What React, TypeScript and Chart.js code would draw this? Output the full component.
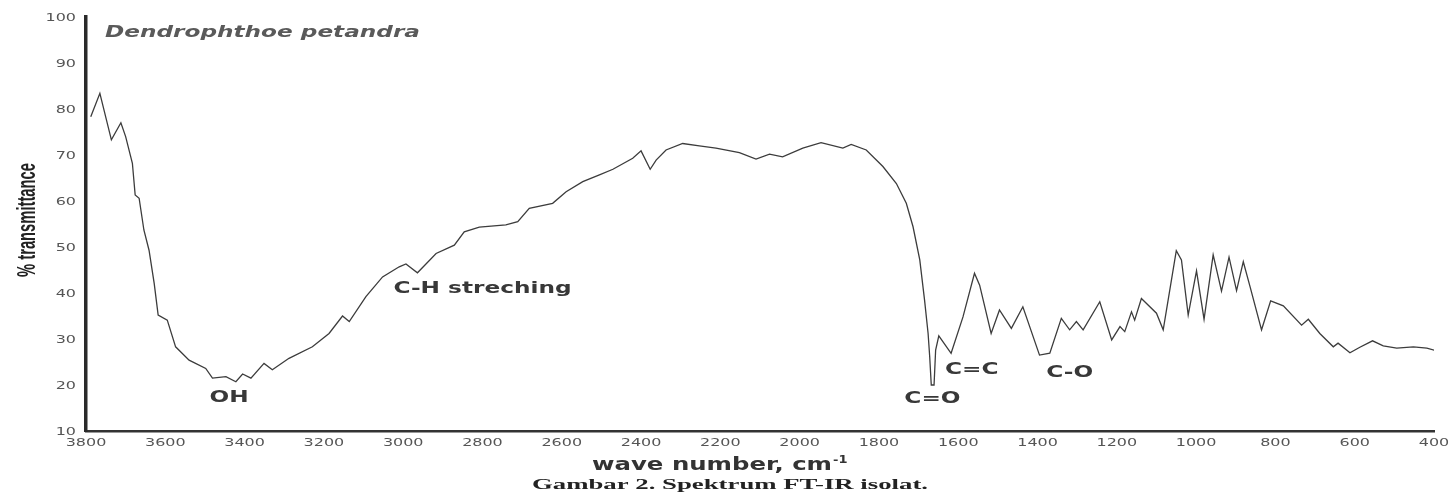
import React, { useEffect, useRef } from "react";
import { Chart, registerables } from "chart.js";

Chart.register(...registerables);

// ---- data ----
const wavenumbers = [
  3788, 3765, 3736, 3712, 3700, 3683, 3676, 3666, 3654, 3641, 3628, 3618, 3595, 3574, 3540, 3498,
  3481, 3447, 3422, 3405, 3384, 3351, 3330, 3288, 3229, 3187, 3153, 3136, 3094, 3052, 3010, 2993,
  2964, 2917, 2871, 2846, 2808, 2741, 2711, 2682, 2623, 2589, 2547, 2505, 2471, 2421, 2400, 2377,
  2362, 2337, 2295, 2253, 2211, 2152, 2110, 2076, 2043, 1992, 1946, 1891, 1870, 1832, 1790, 1756,
  1731, 1714, 1697, 1685, 1676, 1672, 1668, 1661, 1657, 1649, 1618, 1588, 1559, 1546, 1517, 1496,
  1466, 1437, 1395, 1369, 1340, 1319, 1302, 1285, 1243, 1213, 1192, 1180, 1163, 1155, 1138, 1100,
  1083, 1050, 1037, 1020, 999, 980, 957, 936, 917, 898, 881, 864, 835, 812, 780, 734,
  717, 688, 654, 642, 612, 587, 555, 528, 494, 452, 418, 397,
];
const transmittance = [
  78.3, 83.4, 73.3, 77.0, 74.0, 68.2, 61.3, 60.6, 53.7, 49.3, 42.1, 35.2, 34.1, 28.3, 25.4, 23.6,
  21.5, 21.8, 20.7, 22.4, 21.5, 24.7, 23.3, 25.8, 28.3, 31.2, 35.0, 33.8, 39.2, 43.5, 45.7, 46.3,
  44.4, 48.6, 50.4, 53.3, 54.3, 54.8, 55.5, 58.4, 59.5, 62.0, 64.2, 65.7, 66.9, 69.3, 70.9, 66.9,
  68.9, 71.1, 72.5, 72.0, 71.5, 70.5, 69.1, 70.2, 69.6, 71.5, 72.7, 71.5, 72.3, 71.1, 67.5, 63.8,
  59.5, 54.4, 47.2, 38.5, 31.2, 26.2, 20.0, 20.0, 27.6, 30.7, 26.9, 34.8, 44.3, 41.7, 31.2, 36.3,
  32.3, 37.0, 26.5, 26.9, 34.5, 32.0, 33.8, 32.0, 38.1, 29.8, 32.7, 31.6, 35.9, 34.1, 38.8, 35.6,
  32.0, 49.2, 47.2, 35.2, 44.8, 34.3, 48.3, 40.4, 47.8, 40.5, 46.8, 41.4, 32.0, 38.3, 37.2, 33.0,
  34.3, 31.2, 28.3, 29.1, 27.0, 28.2, 29.6, 28.5, 28.0, 28.3, 28.0, 27.5,
];
const xTickValues = [3800, 3600, 3400, 3200, 3000, 2800, 2600, 2400, 2200, 2000, 1800, 1600, 1400, 1200, 1000, 800, 600, 400];
const yTickValues = [10, 20, 30, 40, 50, 60, 70, 80, 90, 100];

const chartTitle = "Dendrophthoe petandra";
const yAxisTitle = "% transmittance";
const xAxisTitle = "wave number, cm";
const xAxisTitleSup = "-1";
const caption = "Gambar 2. Spektrum FT-IR isolat.";

const bandLabels = ["OH", "C-H streching", "C=O", "C=C", "C-O"];
const bandWavenumbers = [3439, 2800, 1665, 1566, 1319];
const bandTransmittance = [17.6, 41.3, 17.4, 23.8, 23.0];

// ---- styles ----
const STRETCH = 1.45;
const TICK_FONT = "11px 'DejaVu Sans', sans-serif";
const LABEL_FONT = "bold 16px 'DejaVu Sans', sans-serif";

function drawText(
  ctx: CanvasRenderingContext2D,
  text: string,
  x: number,
  y: number,
  font: string,
  color: string,
  align: CanvasTextAlign,
  sx: number
) {
  ctx.save();
  ctx.font = font;
  ctx.fillStyle = color;
  ctx.textAlign = align;
  ctx.textBaseline = "alphabetic";
  ctx.translate(x, y);
  ctx.scale(sx, 1);
  ctx.fillText(text, 0, 0);
  ctx.restore();
}

function fitScale(ctx: CanvasRenderingContext2D, text: string, font: string, width: number) {
  ctx.save();
  ctx.font = font;
  const w = ctx.measureText(text).width;
  ctx.restore();
  return w > 0 ? width / w : 1;
}

const decorPlugin = {
  id: "decor",
  afterDraw(chart: any) {
    const ctx: CanvasRenderingContext2D = chart.ctx;
    const xs = chart.scales.x;
    const ys = chart.scales.y;

    // y tick labels
    yTickValues.forEach((v) => {
      drawText(ctx, String(v), 76, ys.getPixelForValue(v) + 4, TICK_FONT, "#555", "right", STRETCH);
    });
    // x tick labels
    xTickValues.forEach((v) => {
      drawText(ctx, String(v), xs.getPixelForValue(v), 446, TICK_FONT, "#555", "center", STRETCH);
    });

    // chart title inside plot
    const tFont = "italic bold 16px 'DejaVu Sans', sans-serif";
    drawText(ctx, chartTitle, 105, 37, tFont, "#5a5a5a", "left", fitScale(ctx, chartTitle, tFont, 315));

    // y axis title (rotated)
    const yFont = "bold 26px 'Liberation Sans Narrow', 'Liberation Sans', sans-serif";
    const ySx = fitScale(ctx, yAxisTitle, yFont, 114);
    ctx.save();
    ctx.translate(35, 220);
    ctx.rotate(-Math.PI / 2);
    ctx.font = yFont;
    ctx.fillStyle = "#222";
    ctx.textAlign = "center";
    ctx.textBaseline = "alphabetic";
    ctx.scale(ySx, 1);
    ctx.fillText(yAxisTitle, 0, 0);
    ctx.restore();

    // x axis title
    const xFont = "bold 17px 'DejaVu Sans', sans-serif";
    drawText(ctx, xAxisTitle, 592, 470, xFont, "#333", "left", fitScale(ctx, xAxisTitle, xFont, 240));
    drawText(ctx, xAxisTitleSup, 833, 463, "bold 10px 'DejaVu Sans', sans-serif", "#333", "left", 1.3);

    // caption
    const cFont = "bold 15px 'Liberation Serif', 'Times New Roman', serif";
    drawText(ctx, caption, 532, 489, cFont, "#222", "left", fitScale(ctx, caption, cFont, 396));

    // band annotations
    bandLabels.forEach((lab, i) => {
      drawText(
        ctx,
        lab,
        xs.getPixelForValue(bandWavenumbers[i]),
        ys.getPixelForValue(bandTransmittance[i]) + 6,
        LABEL_FONT,
        "#383838",
        "center",
        STRETCH
      );
    });
  },
};

export default function App() {
  const canvasRef = useRef<HTMLCanvasElement | null>(null);

  useEffect(() => {
    if (!canvasRef.current) return;
    const points = wavenumbers.map((w, i) => ({ x: w, y: transmittance[i] }));
    const chart = new Chart(canvasRef.current, {
      type: "line",
      data: {
        datasets: [
          {
            data: points,
            borderColor: "#3c3c3c",
            borderWidth: 1.3,
            pointRadius: 0,
            tension: 0,
            fill: false,
          },
        ],
      },
      options: {
        responsive: false,
        animation: false,
        devicePixelRatio: 1,
        layout: { padding: { top: 17, right: 16, left: 0, bottom: 0 } },
        plugins: {
          legend: { display: false },
          tooltip: { enabled: false },
          title: { display: false },
        },
        scales: {
          x: {
            type: "linear",
            reverse: true,
            min: 400,
            max: 3800,
            grid: { display: false, drawTicks: false },
            border: { display: true, color: "#333", width: 2.5 },
            ticks: { display: false },
            afterFit: (s: any) => {
              s.height = 62;
            },
          },
          y: {
            min: 10,
            max: 100,
            grid: { display: false, drawTicks: false },
            border: { display: true, color: "#2a2a2a", width: 3.5 },
            ticks: { display: false },
            afterFit: (s: any) => {
              s.width = 86;
            },
          },
        },
      },
      plugins: [decorPlugin],
    });
    return () => chart.destroy();
  }, []);

  return (
    <div style={{ position: "absolute", left: 0, top: 0, width: 1450, height: 493, background: "#fff" }}>
      <canvas ref={canvasRef} width={1450} height={493} style={{ display: "block" }} />
    </div>
  );
}
